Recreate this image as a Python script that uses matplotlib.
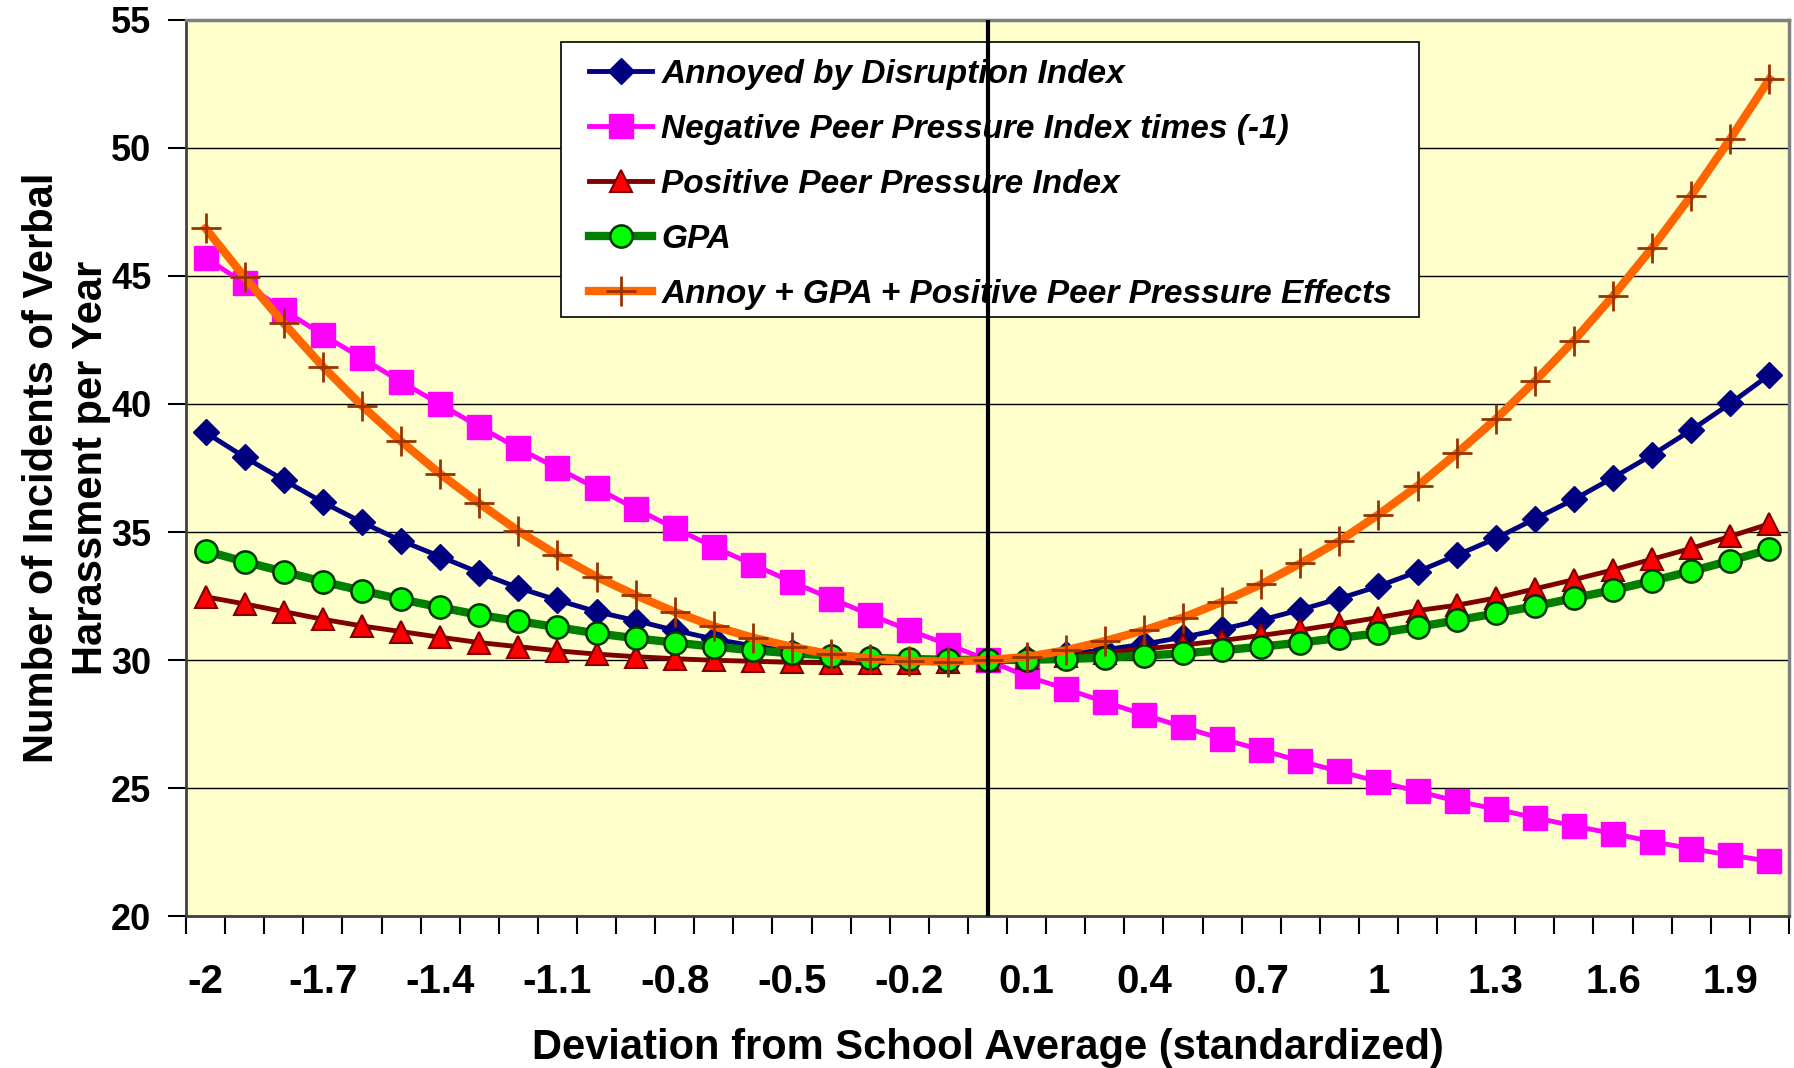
import numpy as np
import matplotlib
matplotlib.use("Agg")
import matplotlib.pyplot as plt
from matplotlib.patches import Rectangle

plt.rcParams['font.family'] = ['Liberation Sans', 'DejaVu Sans']
plt.rcParams['font.weight'] = 'bold'

# deviation from school average (categories)
deviation = [-2.0, -1.9, -1.8, -1.7, -1.6, -1.5, -1.4, -1.3, -1.2, -1.1, -1.0,
             -0.9, -0.8, -0.7, -0.6, -0.5, -0.4, -0.3, -0.2, -0.1, 0.0,
             0.1, 0.2, 0.3, 0.4, 0.5, 0.6, 0.7, 0.8, 0.9, 1.0,
             1.1, 1.2, 1.3, 1.4, 1.5, 1.6, 1.7, 1.8, 1.9, 2.0]

annoyed = [38.89, 37.92, 37.03, 36.16, 35.38, 34.66, 34.04, 33.41, 32.82, 32.34, 31.89,
           31.54, 31.16, 30.82, 30.55, 30.33, 30.17, 30.06, 29.99, 29.97, 30.00,
           30.08, 30.22, 30.40, 30.62, 30.89, 31.20, 31.56, 31.96, 32.40, 32.88,
           33.45, 34.09, 34.75, 35.51, 36.27, 37.12, 38.01, 38.98, 40.02, 41.14]

neg_peer = [45.71, 44.71, 43.67, 42.70, 41.79, 40.87, 39.99, 39.11, 38.27, 37.49, 36.71,
            35.91, 35.15, 34.42, 33.73, 33.05, 32.40, 31.77, 31.16, 30.60, 30.00,
            29.36, 28.88, 28.36, 27.87, 27.38, 26.92, 26.49, 26.05, 25.65, 25.25,
            24.87, 24.49, 24.18, 23.84, 23.52, 23.22, 22.91, 22.63, 22.38, 22.14]

pos_peer = [32.47, 32.19, 31.89, 31.59, 31.33, 31.11, 30.89, 30.68, 30.52, 30.36, 30.23,
            30.13, 30.05, 29.99, 29.95, 29.91, 29.89, 29.89, 29.90, 29.94, 30.00,
            30.08, 30.17, 30.29, 30.43, 30.58, 30.76, 30.96, 31.17, 31.41, 31.66,
            31.93, 32.14, 32.42, 32.78, 33.14, 33.52, 33.94, 34.36, 34.83, 35.32]

gpa = [34.26, 33.84, 33.45, 33.06, 32.71, 32.37, 32.06, 31.76, 31.52, 31.28, 31.04,
       30.85, 30.68, 30.52, 30.38, 30.26, 30.17, 30.09, 30.04, 30.01, 30.00,
       30.01, 30.04, 30.09, 30.17, 30.26, 30.38, 30.52, 30.68, 30.86, 31.05,
       31.29, 31.55, 31.82, 32.10, 32.42, 32.73, 33.09, 33.47, 33.88, 34.32]

combined = [46.86, 44.95, 43.15, 41.46, 39.93, 38.54, 37.27, 36.12, 35.04, 34.10, 33.25,
            32.53, 31.88, 31.32, 30.87, 30.51, 30.22, 30.05, 29.96, 29.94, 30.00,
            30.12, 30.38, 30.74, 31.16, 31.66, 32.27, 32.96, 33.77, 34.65, 35.68,
            36.80, 38.07, 39.41, 40.89, 42.48, 44.22, 46.10, 48.14, 50.36, 52.69]

pos = np.arange(len(deviation))

fig = plt.figure(figsize=(17.94, 10.68), dpi=100)
ax = fig.add_axes([0.1037, 0.1423, 0.8935, 0.8390])
ax.set_facecolor('#FFFFCC')

ax.plot(pos, annoyed, color='#000080', lw=3.5, marker='D', ms=13,
        mfc='#000080', mec='#000080', label='Annoyed by Disruption Index')
ax.plot(pos, neg_peer, color='#FF00FF', lw=3.5, marker='s', ms=17,
        mfc='#FF00FF', mec='#FF00FF', label='Negative Peer Pressure Index times (-1)')
ax.plot(pos, pos_peer, color='#800000', lw=3.5, marker='^', ms=16,
        mfc='#FF0000', mec='#800000', mew=1.5, label='Positive Peer Pressure Index')
ax.plot(pos, gpa, color='#008000', lw=6, marker='o', ms=16,
        mfc='#00FF00', mec='#003300', mew=1.8, label='GPA')
ax.plot(pos, combined, color='#FF6600', lw=6, marker='+', ms=22,
        mec='#993300', mew=2, label='Annoy + GPA + Positive Peer Pressure Effects')

# vertical line at the school average
ax.axvline(20, color='black', lw=3, zorder=10)

ax.set_xlim(-0.5, 40.5)
ax.set_ylim(20, 55)
ax.set_yticks(range(20, 56, 5))
ax.yaxis.grid(True, color='black', lw=1)
ax.set_axisbelow(True)

ax.set_xticks(pos[::3])
ax.set_xticklabels(['{:g}'.format(round(v, 1)) for v in deviation[::3]])
ax.set_xticks(np.arange(-0.5, 41, 1), minor=True)
ax.tick_params(axis='x', which='major', length=0, pad=34, labelsize=29)
ax.tick_params(axis='x', which='minor', length=13, width=1.5, direction='out')
ax.tick_params(axis='y', length=13, width=1.5, direction='out', pad=12, labelsize=26)

for side in ['top', 'right']:
    ax.spines[side].set_color('#808080')
    ax.spines[side].set_linewidth(2.5)
for side in ['left', 'bottom']:
    ax.spines[side].set_color('#404040')
    ax.spines[side].set_linewidth(2)

ax.set_xlabel('Deviation from School Average (standardized)', fontsize=30,
              fontweight='bold', labelpad=19)
ax.set_ylabel('Number of Incidents of Verbal\nHarassment per Year', fontsize=30,
              fontweight='bold', labelpad=0, linespacing=1.28)

# legend box drawn separately so its size can match
ax.add_patch(Rectangle((0.234, 0.668), 0.535, 0.307, transform=ax.transAxes,
                       facecolor='white', edgecolor='black', lw=1.2, zorder=4))
leg = ax.legend(loc='upper left', bbox_to_anchor=(0.2514, 0.957), borderaxespad=0,
                numpoints=1, frameon=False, borderpad=0,
                prop={'size': 24, 'style': 'italic', 'weight': 'bold'},
                handlelength=1.9, handletextpad=0.27, labelspacing=0.72)
leg.set_zorder(5)

fig.savefig('out.png', dpi=100)
